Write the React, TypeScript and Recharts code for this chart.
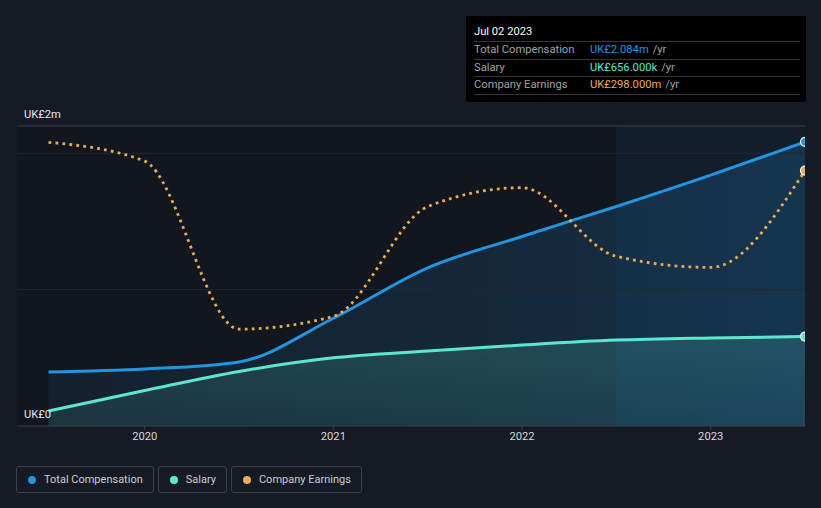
import React from "react";
import {
  ComposedChart,
  Area,
  Line,
  XAxis,
  YAxis,
  CartesianGrid,
  ReferenceLine,
  ReferenceArea,
} from "recharts";

// half-yearly periods (fractional years)
const PERIODS = [2019.49, 2020.0, 2020.5, 2021.0, 2021.5, 2022.0, 2022.5, 2023.0, 2023.5];
// UK£m
const TOTAL_COMP = [0.396, 0.418, 0.47, 0.79, 1.16, 1.39, 1.61, 1.84, 2.084];
const SALARY = [0.11, 0.26, 0.4, 0.5, 0.55, 0.594, 0.63, 0.646, 0.656];
// UK£m (own scale)
const EARNINGS = [331, 309, 113, 128, 256, 278, 198, 185, 298];

const YEAR_TICKS = [2020, 2021, 2022, 2023];
const COMP_TICKS = [0, 2.2];
const COMP_TICK_LABELS = ["UK£0", "UK£2m"];
const GRID_VALUES = [1, 2];

const LEGEND_ITEMS = [
  { name: "Total Compensation", color: "#2394e0" },
  { name: "Salary", color: "#5fe6d0" },
  { name: "Company Earnings", color: "#e9ab56" },
];

const TOOLTIP_DATE = "Jul 02 2023";
const TOOLTIP_ROWS = [
  { label: "Total Compensation", value: "UK£2.084m", color: "#2394e0" },
  { label: "Salary", value: "UK£656.000k", color: "#5fe6d0" },
  { label: "Company Earnings", value: "UK£298.000m", color: "#e9ab56" },
];

const FONT = "Roboto, 'Open Sans', Arial, sans-serif";

const data = PERIODS.map((t, i) => ({
  t,
  comp: TOTAL_COMP[i],
  salary: SALARY[i],
  earnings: EARNINGS[i],
}));

const lastDot = (color: string) => (props: any) => {
  const { cx, cy, index } = props;
  if (index !== data.length - 1 || cx == null || cy == null) return <g key={index} />;
  return <circle key={index} cx={cx} cy={cy} r={4.5} fill={color} stroke="#ffffff" strokeWidth={1.2} />;
};

const CompTick = (props: any) => {
  const { y, payload } = props;
  const i = COMP_TICKS.indexOf(payload?.value);
  return (
    <text x={24} y={y - 8} fill="#e2e5ea" fontSize={11.2} fontFamily={FONT}>
      {COMP_TICK_LABELS[i]}
    </text>
  );
};

export default function App() {
  return (
    <div
      style={{
        position: "absolute",
        left: 0,
        top: 0,
        width: 821,
        height: 508,
        background: "#151a24",
        fontFamily: FONT,
        overflow: "hidden",
      }}
    >
      <ComposedChart
        width={821}
        height={508}
        data={data}
        margin={{ top: 126, right: 16, bottom: 52, left: 16 }}
      >
        <defs>
          <linearGradient id="compFill" x1="0" y1="0" x2="1" y2="0">
            <stop offset="0%" stopColor="#2394e0" stopOpacity={0.14} />
            <stop offset="100%" stopColor="#2394e0" stopOpacity={0.32} />
          </linearGradient>
          <linearGradient id="salaryFill" x1="0" y1="0" x2="0" y2="1">
            <stop offset="0%" stopColor="#5fe6d0" stopOpacity={0.3} />
            <stop offset="100%" stopColor="#5fe6d0" stopOpacity={0.16} />
          </linearGradient>
        </defs>
        <CartesianGrid horizontal={false} vertical={false} fill="#12161e" />
        <XAxis
          type="number"
          dataKey="t"
          domain={[2019.323, 2023.5]}
          ticks={YEAR_TICKS}
          allowDataOverflow
          height={30}
          axisLine={{ stroke: "#3a404b" }}
          tickLine={{ stroke: "#3a404b" }}
          tickSize={4}
          tick={{ fill: "#d8dbe0", fontSize: 11.2, fontFamily: FONT }}
        />
        <YAxis
          yAxisId="comp"
          domain={[0, 2.2]}
          ticks={COMP_TICKS}
          width={1}
          axisLine={false}
          tickLine={false}
          tick={<CompTick />}
        />
        <YAxis yAxisId="earn" orientation="right" domain={[0, 350]} hide width={0} />
        {GRID_VALUES.map((v) => (
          <ReferenceLine key={v} yAxisId="comp" y={v} stroke="#232833" strokeWidth={1} />
        ))}
        <ReferenceLine yAxisId="comp" y={2.2} stroke="#3a404b" strokeWidth={1} />
        <Area
          yAxisId="comp"
          type="monotone"
          dataKey="comp"
          stroke="none"
          fill="url(#compFill)"
          isAnimationActive={false}
        />
        <Area
          yAxisId="comp"
          type="monotone"
          dataKey="salary"
          stroke="none"
          fill="url(#salaryFill)"
          isAnimationActive={false}
        />
        <ReferenceArea
          yAxisId="comp"
          x1={2022.5}
          x2={2023.5}
          y1={0}
          y2={2.2}
          fill="#2394e0"
          fillOpacity={0.07}
          stroke="none"
        />
        <Line
          yAxisId="comp"
          type="monotone"
          dataKey="comp"
          stroke="#2394e0"
          strokeWidth={3}
          dot={lastDot("#2394e0")}
          activeDot={false}
          isAnimationActive={false}
        />
        <Line
          yAxisId="comp"
          type="monotone"
          dataKey="salary"
          stroke="#5fe6d0"
          strokeWidth={3}
          dot={lastDot("#5fe6d0")}
          activeDot={false}
          isAnimationActive={false}
        />
        <Line
          yAxisId="earn"
          type="monotone"
          dataKey="earnings"
          stroke="#e9ab56"
          strokeWidth={2.8}
          strokeDasharray="2.8 4.2"
          dot={lastDot("#e9ab56")}
          activeDot={false}
          isAnimationActive={false}
        />
      </ComposedChart>

      {/* static tooltip */}
      <div
        style={{
          position: "absolute",
          left: 466,
          top: 16,
          width: 340,
          height: 86,
          background: "#000000",
          boxSizing: "border-box",
          padding: "8px 6px 0 8px",
          fontSize: 11.2,
        }}
      >
        <div style={{ color: "#ffffff", height: 17, lineHeight: "16px" }}>{TOOLTIP_DATE}</div>
        {TOOLTIP_ROWS.map((r) => (
          <div
            key={r.label}
            style={{
              display: "flex",
              height: 17.5,
              boxSizing: "border-box",
              lineHeight: "16px",
              borderTop: "1px solid #33363c",
            }}
          >
            <span style={{ width: 116, color: "#9ea3aa" }}>{r.label}</span>
            <span style={{ color: r.color }}>{r.value}</span>
            <span style={{ color: "#9ea3aa", marginLeft: 4 }}>/yr</span>
          </div>
        ))}
        <div style={{ borderTop: "1px solid #33363c" }} />
      </div>

      {/* legend */}
      <div
        style={{
          position: "absolute",
          left: 16,
          top: 466,
          display: "flex",
          gap: 4,
        }}
      >
        {LEGEND_ITEMS.map((it) => (
          <div
            key={it.name}
            style={{
              display: "flex",
              alignItems: "center",
              height: 27,
              boxSizing: "border-box",
              border: "1px solid #3c414b",
              borderRadius: 3,
              padding: "0 10px 0 11px",
              color: "#c9cdd3",
              fontSize: 11,
            }}
          >
            <span
              style={{
                width: 8,
                height: 8,
                borderRadius: 4,
                background: it.color,
                marginRight: 8,
              }}
            />
            {it.name}
          </div>
        ))}
      </div>
    </div>
  );
}
